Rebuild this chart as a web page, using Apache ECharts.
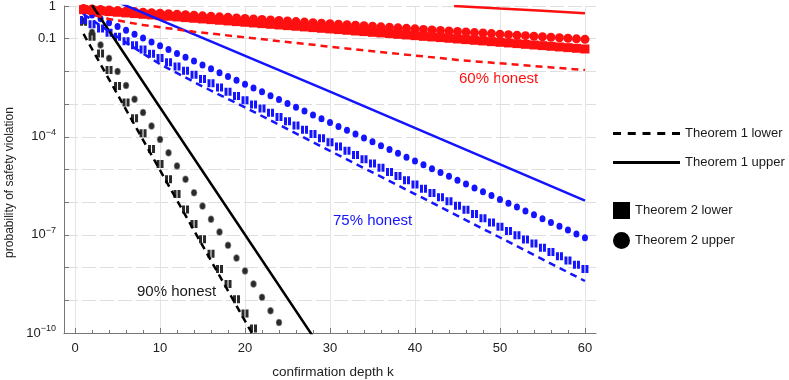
<!DOCTYPE html>
<html>
<head>
<meta charset="utf-8">
<script src="https://cdn.jsdelivr.net/npm/echarts@6/dist/echarts.min.js"></script>
<style>
  html, body { margin: 0; padding: 0; background: #fff; }
  #chart { width: 789px; height: 380px; }
</style>
</head>
<body>
<div id="chart"></div>
<script>
// confirmation depth k for the marker series
const depthK = [1, 2, 3, 4, 5, 6, 7, 8, 9, 10, 11, 12, 13, 14, 15, 16, 17, 18, 19, 20,
  21, 22, 23, 24, 25, 26, 27, 28, 29, 30, 31, 32, 33, 34, 35, 36, 37, 38, 39, 40,
  41, 42, 43, 44, 45, 46, 47, 48, 49, 50, 51, 52, 53, 54, 55, 56, 57, 58, 59, 60];

// 60% honest
const red_t2_upper = [0.839, 0.809, 0.780, 0.752, 0.724, 0.698, 0.673, 0.649, 0.625, 0.603,
  0.581, 0.560, 0.540, 0.520, 0.501, 0.483, 0.466, 0.449, 0.433, 0.417,
  0.402, 0.387, 0.373, 0.360, 0.347, 0.334, 0.322, 0.310, 0.299, 0.288,
  0.278, 0.268, 0.258, 0.249, 0.240, 0.231, 0.223, 0.215, 0.207, 0.200,
  0.192, 0.185, 0.179, 0.172, 0.166, 0.160, 0.154, 0.149, 0.143, 0.138,
  0.133, 0.128, 0.124, 0.119, 0.115, 0.111, 0.107, 0.103, 0.0991, 0.0955];
const red_t2_lower = [0.775, 0.740, 0.706, 0.674, 0.643, 0.613, 0.585, 0.558, 0.533, 0.508,
  0.485, 0.463, 0.441, 0.421, 0.402, 0.383, 0.366, 0.349, 0.333, 0.318,
  0.303, 0.289, 0.276, 0.263, 0.251, 0.240, 0.229, 0.218, 0.208, 0.199,
  0.190, 0.181, 0.172, 0.165, 0.157, 0.150, 0.143, 0.136, 0.130, 0.124,
  0.118, 0.113, 0.108, 0.103, 0.0982, 0.0937, 0.0894, 0.0853, 0.0813, 0.0776,
  0.0741, 0.0707, 0.0674, 0.0643, 0.0614, 0.0586, 0.0559, 0.0533, 0.0509, 0.0485];
const red_t1_lower = [[1, 0.708], [2, 0.55], [4, 0.40], [8, 0.263], [14, 0.164], [20, 0.110],
  [30, 0.0569], [45, 0.0224], [60, 0.011]];
const red_t1_upper = [[44.6, 1.0], [50, 0.84], [55, 0.72], [60, 0.60]];

// 75% honest
const blue_t2_upper = [0.696, 0.531, 0.405, 0.309, 0.236, 0.180, 0.137, 0.105, 0.0799, 0.0610,
  0.0465, 0.0355, 0.0271, 0.0207, 0.0158, 0.0120, 9.17e-3, 7.00e-3, 5.34e-3, 4.07e-3,
  3.11e-3, 2.37e-3, 1.81e-3, 1.38e-3, 1.05e-3, 8.04e-4, 6.13e-4, 4.68e-4, 3.57e-4, 2.72e-4,
  2.08e-4, 1.58e-4, 1.21e-4, 9.23e-5, 7.04e-5, 5.37e-5, 4.10e-5, 3.13e-5, 2.38e-5, 1.82e-5,
  1.39e-5, 1.06e-5, 8.08e-6, 6.17e-6, 4.70e-6, 3.59e-6, 2.74e-6, 2.09e-6, 1.59e-6, 1.22e-6,
  9.28e-7, 7.08e-7, 5.40e-7, 4.12e-7, 3.14e-7, 2.40e-7, 1.83e-7, 1.40e-7, 1.07e-7, 8.13e-8];
const blue_t2_lower = [0.372, 0.277, 0.206, 0.153, 0.114, 0.0843, 0.0627, 0.0466, 0.0346, 0.0257,
  0.0191, 0.0142, 0.0105, 7.83e-3, 5.82e-3, 4.33e-3, 3.21e-3, 2.39e-3, 1.77e-3, 1.32e-3,
  9.79e-4, 7.28e-4, 5.41e-4, 4.02e-4, 2.99e-4, 2.22e-4, 1.65e-4, 1.22e-4, 9.10e-5, 6.76e-5,
  5.02e-5, 3.73e-5, 2.77e-5, 2.06e-5, 1.53e-5, 1.14e-5, 8.45e-6, 6.28e-6, 4.67e-6, 3.47e-6,
  2.58e-6, 1.91e-6, 1.42e-6, 1.06e-6, 7.85e-7, 5.83e-7, 4.34e-7, 3.22e-7, 2.39e-7, 1.78e-7,
  1.32e-7, 9.82e-8, 7.29e-8, 5.42e-8, 4.03e-8, 2.99e-8, 2.22e-8, 1.65e-8, 1.23e-8, 9.12e-9];
const blue_t1_lower = [[1, 0.56], [3, 0.25], [6, 0.0759], [10, 0.0166], [15, 3.47e-3], [20, 7.94e-4],
  [30, 3.72e-5], [40, 1.78e-6], [50, 8.32e-8], [60, 3.89e-9]];
const blue_t1_upper = [[5, 1.32], [30, 2.4e-3], [60, 1.12e-6]];

// 90% honest
const black_t2_upper = [0.355, 0.158, 0.0646, 0.0251, 0.0100, 3.72e-3, 1.41e-3, 5.50e-4, 2.14e-4, 8.32e-5,
  3.24e-5, 1.29e-5, 5.01e-6, 1.95e-6, 7.59e-7, 3.02e-7, 1.23e-7, 4.79e-8, 1.95e-8, 7.94e-9,
  3.16e-9, 1.23e-9, 4.79e-10, 2.09e-10];
const black_t2_lower = [0.331, 0.115, 0.0355, 0.0110, 3.55e-3, 1.12e-3, 3.72e-4, 1.29e-4, 4.27e-5, 1.48e-5,
  5.01e-6, 1.78e-6, 6.03e-7, 2.14e-7, 7.41e-8, 2.63e-8, 9.12e-9, 3.16e-9, 1.07e-9, 3.98e-10,
  1.38e-10];
const black_t1_lower = [[1, 0.14], [10, 9.5e-6], [22, 2.8e-11]];
const black_t1_upper = [[2, 1.05], [10, 7.9e-4], [28.5, 5e-11]];

const xTicks = [0, 10, 20, 30, 40, 50, 60];
const xMinorTicks = [2, 4, 6, 8, 12, 14, 16, 18, 22, 24, 26, 28, 32, 34, 36, 38,
  42, 44, 46, 48, 52, 54, 56, 58];
const yLabels = { '0': '1', '-1': '0.1', '-4': '{b|10}{e|\u22124}', '-7': '{b|10}{e|\u22127}', '-10': '{b|10}{e|\u221210}' };

const RED = '#ff1010';
const BLUE = '#1414ff';
const BLACK = '#2a2a2a';
const barSquare = 'path://M0,0h3v8h-3z M4,0h3v8h-3z';
const dashIcon = 'path://M0,0h8v3h-8z M14.75,0h8v3h-8z M29.5,0h8v3h-8z M44.25,0h8v3h-8z M59,0h8v3h-8z';
const solidIcon = 'path://M0,0h67v3h-67z';

function withK(vals) {
  return vals.map((v, i) => [depthK[i], v]);
}

function dashLine(data, color) {
  return {
    type: 'line', data: data, symbol: 'none', clip: true, silent: true,
    lineStyle: { color: color, width: 2.5, type: [7, 5] }
  };
}
function solidLine(data, color) {
  return {
    type: 'line', data: data, symbol: 'none', clip: true, silent: true,
    lineStyle: { color: color, width: 2.5 }
  };
}
function dots(data, color, symbol, size, border) {
  return {
    type: 'scatter', data: withK(data), symbol: symbol, symbolSize: size, clip: true, silent: true,
    itemStyle: { color: color, opacity: 1, borderColor: border || color, borderWidth: border ? 0.6 : 0 }
  };
}

const chart = echarts.init(document.getElementById('chart'));
const fontFamily = '"Liberation Sans", Arial, sans-serif';

const option = {
  animation: false,
  textStyle: { fontFamily: fontFamily },
  grid: { left: 64, right: 193, top: 6, bottom: 47, containLabel: false, outerBoundsMode: 'none' },
  xAxis: [{
    type: 'value', min: -1.3, max: 61.3, position: 'bottom',
    name: 'confirmation depth k', nameLocation: 'middle', nameGap: 32,
    nameTextStyle: { fontSize: 13.5, color: '#222', fontFamily: fontFamily, padding: [0, 0, 0, 6] },
    axisLine: { onZero: false, lineStyle: { color: '#777', width: 1 } },
    axisTick: { inside: true, length: 5, customValues: xTicks, lineStyle: { color: '#777' } },
    axisLabel: { customValues: xTicks, fontSize: 13, color: '#222', margin: 9, fontFamily: fontFamily },
    splitLine: { show: true, lineStyle: { color: '#e4e4e4', width: 1 } }
  }, {
    type: 'value', min: -1.3, max: 61.3, position: 'bottom',
    axisLine: { show: false, onZero: false },
    axisTick: { show: true, inside: true, length: 3, customValues: xMinorTicks, lineStyle: { color: '#777' } },
    axisLabel: { show: false },
    splitLine: { show: false }
  }],
  yAxis: {
    type: 'log', logBase: 10, min: 1e-10, max: 1, interval: 1,
    name: 'probability of safety violation', nameLocation: 'middle', nameGap: 48,
    nameTextStyle: { fontSize: 12, color: '#222', fontFamily: fontFamily, padding: [0, 26, 0, 0] },
    axisLine: { show: true, onZero: false, lineStyle: { color: '#777', width: 1 } },
    axisTick: { show: true, inside: true, length: 5, lineStyle: { color: '#777' } },
    axisLabel: {
      fontSize: 13, color: '#222', margin: 8, fontFamily: fontFamily,
      formatter: function (v) {
        const e = Math.round(Math.log10(v));
        return yLabels[String(e)] || '';
      },
      rich: {
        b: { fontSize: 13, color: '#222', lineHeight: 18, fontFamily: fontFamily },
        e: { fontSize: 9, color: '#222', verticalAlign: 'top', lineHeight: 10, fontFamily: fontFamily }
      }
    },
    splitLine: { show: true, lineStyle: { color: '#dedede', width: 1, type: [14, 4] } }
  },
  legend: [{
    data: [{ name: 'Theorem 1 lower', icon: dashIcon }, { name: 'Theorem 1 upper', icon: solidIcon }],
    orient: 'vertical', left: 608, top: 122, itemWidth: 67, itemHeight: 3, itemGap: 16,
    selectedMode: false, textStyle: { fontSize: 13, color: '#1a1a1a', fontFamily: fontFamily }
  }, {
    data: ['Theorem 2 lower', 'Theorem 2 upper'],
    orient: 'vertical', left: 608, top: 197, itemWidth: 17, itemHeight: 17, itemGap: 13,
    selectedMode: false, textStyle: { fontSize: 13, color: '#1a1a1a', fontFamily: fontFamily }
  }],
  graphic: [
    { type: 'text', left: 459, top: 71, style: { text: '60% honest', fill: RED, fontSize: 15, fontFamily: fontFamily } },
    { type: 'text', left: 333, top: 213, style: { text: '75% honest', fill: BLUE, fontSize: 15, fontFamily: fontFamily } },
    { type: 'text', left: 137, top: 284, style: { text: '90% honest', fill: '#1a1a1a', fontSize: 15, fontFamily: fontFamily } }
  ],
  series: [
    // legend samples
    { name: 'Theorem 1 lower', type: 'line', data: [], symbol: 'none', itemStyle: { color: '#000' },
      lineStyle: { color: '#000', width: 3, type: [7, 5] } },
    { name: 'Theorem 1 upper', type: 'line', data: [], symbol: 'none', itemStyle: { color: '#000' },
      lineStyle: { color: '#000', width: 3 } },
    { name: 'Theorem 2 lower', type: 'scatter', data: [], symbol: 'rect', itemStyle: { color: '#000', opacity: 1 } },
    { name: 'Theorem 2 upper', type: 'scatter', data: [], symbol: 'circle', itemStyle: { color: '#000', opacity: 1 } },

    // 90% honest
    dots(black_t2_upper, BLACK, 'circle', [6, 7], '#aaa'),
    dots(black_t2_lower, BLACK, barSquare, [7, 8]),
    dashLine(black_t1_lower, '#000'),
    solidLine(black_t1_upper, '#000'),

    // 75% honest
    dots(blue_t2_upper, BLUE, 'circle', [6, 7]),
    dots(blue_t2_lower, BLUE, barSquare, [7, 8]),
    dashLine(blue_t1_lower, BLUE),
    solidLine(blue_t1_upper, BLUE),

    // 60% honest
    dots(red_t2_upper, RED, 'circle', 9),
    dots(red_t2_lower, RED, 'rect', 9),
    dashLine(red_t1_lower, RED),
    solidLine(red_t1_upper, RED)
  ]
};

chart.setOption(option);
</script>
</body>
</html>
